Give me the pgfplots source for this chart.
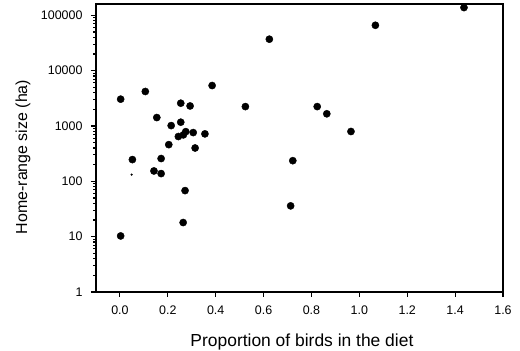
\documentclass[border=0pt]{standalone}
\usepackage{fontspec}
\setmainfont{Liberation Sans}
\usepackage{pgfplots}
\pgfplotsset{compat=1.18}
\begin{document}
\begin{tikzpicture}
\path[use as bounding box] (-96bp,-59bp) rectangle (424bp,292bp);
\begin{axis}[
  at={(0,0)}, anchor=south west,
  scale only axis, width=407bp, height=288bp,
  xmin=-0.1, xmax=1.6, ymode=log, ymin=1, ymax=160000,
  axis line style={line width=1.1bp}, every tick/.style={line width=1.1bp, black},
  tick align=outside, major tick length=5bp,
  xtick={0,0.2,...,1.6}, xtick pos=bottom, ytick pos=left,
  ytick={1,10,100,1000,10000,100000},
  yticklabels={1,10,100,1000,10000,100000},
  minor ytick={},
  /pgf/number format/assume math mode=true,
  xticklabel style={/pgf/number format/.cd, fixed, precision=1, fixed zerofill},
  tick label style={font=\fontsize{12.5}{14}\selectfont},
  xticklabel shift=5bp, yticklabel shift=5bp,
  xlabel={Proportion of birds in the diet},
  ylabel={Home-range size (ha)},
  xlabel style={font=\fontsize{17.5}{20}\selectfont, at={(axis description cs:0.506,0)}, anchor=base, yshift=-54bp},
  ylabel style={font=\fontsize{16}{19}\selectfont, at={(axis description cs:-0.1695,0.469)}, anchor=base, rotate=0},
  clip=false,
]
\addplot[only marks, mark=*, mark size=3.6bp, black] coordinates {
(0.003,3050) (0.106,4200) (0.254,2580) (0.293,2300) (0.385,5380) (0.524,2240)
(0.624,37000) (0.154,1420) (0.214,1016) (0.254,1170) (0.275,790) (0.306,760)
(0.244,645) (0.265,690) (0.355,720) (0.204,460) (0.314,400)
(0.052,247) (0.172,258) (0.142,154) (0.172,138) (0.272,68) (0.264,18)
(0.003,10.3) (0.722,236) (0.713,36)
(1.437,138000) (1.067,66000) (0.824,2240) (0.864,1660) (0.965,795)
};
\addplot[only marks, mark=*, mark size=0.9bp, black] coordinates {(0.049,132)};
\end{axis}
\end{tikzpicture}
\end{document}
